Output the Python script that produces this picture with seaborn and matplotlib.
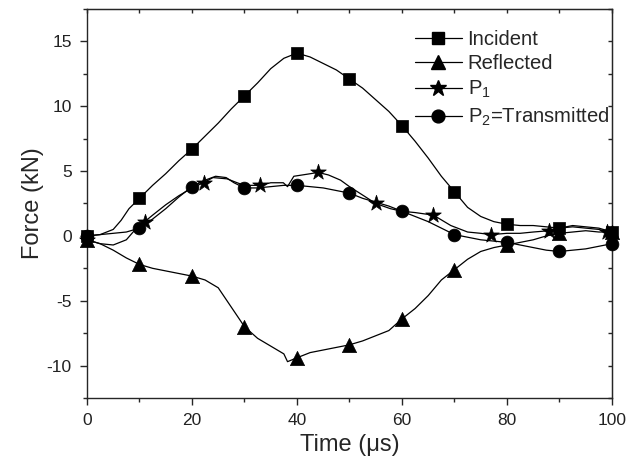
import matplotlib
matplotlib.use("Agg")
import matplotlib.pyplot as plt
from matplotlib.lines import Line2D
from matplotlib.ticker import MultipleLocator
import seaborn as sns

# ---- data (time in us, force in kN) ----
inc_t = [0, 2.5, 5, 6.5, 8, 10, 12.5, 15, 17.5, 20, 22.5, 25, 27.5, 30, 32.5, 35, 37.5, 40,
         42.5, 45, 47.5, 50, 52.5, 55, 57.5, 60, 62.5, 65, 67.5, 70, 72.5, 75, 77.5, 80,
         82.5, 85, 87.5, 90, 92.5, 95, 97.5, 100]
inc_f = [0.0, 0.1, 0.5, 1.2, 2.1, 2.9, 3.9, 4.8, 5.8, 6.7, 7.7, 8.7, 9.8, 10.8, 11.8, 12.9, 13.7, 14.1,
         13.8, 13.3, 12.8, 12.1, 11.4, 10.5, 9.6, 8.5, 7.3, 6.0, 4.6, 3.4, 2.2, 1.5, 1.1, 0.9,
         0.8, 0.8, 0.7, 0.6, 0.8, 0.7, 0.6, 0.3]
inc_mt = [0, 10, 20, 30, 40, 50, 60, 70, 80, 90, 100]
inc_mf = [0.0, 2.9, 6.7, 10.8, 14.1, 12.1, 8.5, 3.4, 0.9, 0.6, 0.3]

ref_t = [0, 2.5, 5, 7.5, 10, 12.5, 15, 17.5, 20, 22.5, 25, 27.5, 30, 32.5, 35, 37.5, 38.2, 40,
         42.5, 45, 47.5, 50, 52.5, 55, 57.5, 60, 62.5, 65, 67.5, 70, 72.5, 75, 77.5, 80,
         82.5, 85, 87.5, 90, 92.5, 95, 97.5, 100]
ref_f = [-0.3, -0.6, -1.1, -1.7, -2.2, -2.5, -2.7, -2.9, -3.1, -3.4, -4.0, -5.5, -7.0, -7.9, -8.5, -9.1, -9.7, -9.4,
         -9.0, -8.8, -8.6, -8.4, -8.1, -7.7, -7.3, -6.4, -5.6, -4.6, -3.4, -2.6, -1.8, -1.2, -0.9, -0.7,
         -0.5, -0.3, 0.0, 0.2, 0.3, 0.4, 0.3, 0.3]
ref_mt = [0, 10, 20, 30, 40, 50, 60, 70, 80, 90, 100]
ref_mf = [-0.3, -2.2, -3.1, -7.0, -9.4, -8.4, -6.4, -2.6, -0.7, 0.2, 0.3]

p1_t = [0, 2.5, 5, 7.5, 9, 11, 12.5, 15, 17.5, 20, 22.2, 24, 26.7, 28.6, 30, 33, 35, 37.4, 38.2,
        39.4, 42.6, 44, 46, 48.3, 50, 52.7, 55, 57.8, 60, 62.5, 66, 69.3, 72.5, 75, 77, 80,
        82.5, 85, 88, 90, 92.5, 95, 97.5, 99, 100]
p1_f = [-0.3, -0.6, -0.7, -0.3, 0.4, 1.1, 1.6, 2.4, 3.1, 3.7, 4.1, 4.5, 4.4, 4.1, 3.9, 3.9, 4.1, 4.1, 3.8,
        4.6, 4.8, 4.9, 4.7, 4.3, 3.8, 3.1, 2.5, 2.1, 1.9, 1.8, 1.6, 0.8, 0.3, 0.2, 0.1, 0.2,
        0.2, 0.3, 0.4, 0.6, 0.7, 0.6, 0.5, 0.3, 0.3]
p1_mt = [0, 11, 22.2, 33, 44, 55, 66, 77, 88, 99]
p1_mf = [-0.3, 1.1, 4.1, 3.9, 4.9, 2.5, 1.6, 0.1, 0.4, 0.3]

p2_t = [0, 2.5, 5, 7.5, 10, 12.5, 15, 17.5, 20, 22.5, 24.5, 26.5, 28, 30, 32.5, 35, 37.5, 40,
        42.5, 45, 47.5, 50, 52.5, 55, 57.5, 60, 62.5, 65, 67.5, 70, 72.5, 75, 77.5, 80,
        82.5, 85, 87.5, 90, 92.5, 95, 97.5, 100]
p2_f = [0.0, 0.1, 0.2, 0.3, 0.6, 1.3, 2.1, 3.0, 3.8, 4.3, 4.6, 4.5, 4.1, 3.7, 3.7, 3.8, 3.9, 3.9,
        3.8, 3.7, 3.5, 3.3, 2.9, 2.6, 2.3, 1.9, 1.5, 1.1, 0.6, 0.1, -0.1, -0.3, -0.4, -0.5,
        -0.7, -0.9, -1.1, -1.2, -1.1, -1.0, -0.8, -0.6]
p2_mt = [0, 10, 20, 30, 40, 50, 60, 70, 80, 90, 100]
p2_mf = [0.0, 0.6, 3.8, 3.7, 3.9, 3.3, 1.9, 0.1, -0.5, -1.2, -0.6]

labels = ["Incident", "Reflected", "P$_1$", "P$_2$=Transmitted"]

sns.set_style("ticks")
plt.rcParams['font.family'] = ['Liberation Sans', 'DejaVu Sans']
plt.rcParams['mathtext.fontset'] = 'custom'
plt.rcParams['mathtext.rm'] = 'Liberation Sans'
plt.rcParams['mathtext.it'] = 'Liberation Sans'

fig = plt.figure(figsize=(6.28, 4.67), dpi=100)
ax = fig.add_axes([0.1385, 0.1478, 0.836, 0.8329])

series = [
    (inc_t, inc_f, inc_mt, inc_mf, "s", 65),
    (ref_t, ref_f, ref_mt, ref_mf, "^", 105),
    (p1_t, p1_f, p1_mt, p1_mf, "*", 140),
    (p2_t, p2_f, p2_mt, p2_mf, "o", 85),
]
handles = []
for (t, f, mt, mf, mk, sz), lab in zip(series, labels):
    sns.lineplot(x=t, y=f, color="black", lw=0.9, estimator=None, ax=ax)
    sns.scatterplot(x=mt, y=mf, marker=mk, s=sz, color="black", edgecolor="black",
                    linewidth=0.5, ax=ax, zorder=3, clip_on=False)
    handles.append(Line2D([], [], color="black", lw=0.9, marker=mk,
                          markersize=(sz ** 0.5), label=lab))

ax.set_xlim(0, 100)
ax.set_ylim(-12.5, 17.5)
ax.xaxis.set_major_locator(MultipleLocator(20))
ax.xaxis.set_minor_locator(MultipleLocator(10))
ax.yaxis.set_major_locator(MultipleLocator(5))
ax.yaxis.set_minor_locator(MultipleLocator(2.5))
ax.set_yticks([-10, -5, 0, 5, 10, 15])
ax.set_yticklabels(["-10", "-5", "0", "5", "10", "15"])

ax.tick_params(which="major", direction="out", length=5, width=1, labelsize=12.5, pad=6,
               labelcolor="#222222")
ax.tick_params(which="minor", direction="out", length=3, width=1)
for s in ax.spines.values():
    s.set_linewidth(1.0)

# inward ticks on top and right
sec_x = ax.secondary_xaxis("top")
sec_x.xaxis.set_major_locator(MultipleLocator(10))
sec_x.tick_params(direction="in", length=3, width=1, labeltop=False)
sec_y = ax.secondary_yaxis("right")
sec_y.yaxis.set_major_locator(MultipleLocator(2.5))
sec_y.tick_params(direction="in", length=3, width=1, labelright=False)

ax.set_xlabel("Time (\u03bcs)", fontsize=17, labelpad=4)
ax.set_ylabel("Force (kN)", fontsize=17, labelpad=2)

ax.legend(handles=handles, loc="upper right", frameon=False, fontsize=14.6,
          handlelength=2.3, handletextpad=0.3, labelspacing=0.27,
          bbox_to_anchor=(1.01, 0.967), borderaxespad=0.0)

fig.savefig("out.png", dpi=100)
